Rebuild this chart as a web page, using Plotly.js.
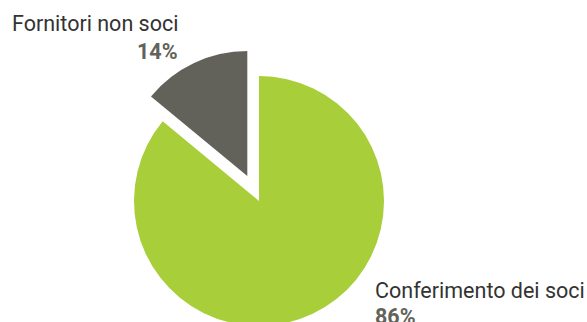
<!DOCTYPE html>
<html>
<head>
<meta charset="utf-8">
<script src="https://cdn.plot.ly/plotly-3.0.1.min.js"></script>
<style>
html,body{margin:0;padding:0;overflow:hidden;background:#fff;}
#chart{width:587px;height:402px;}
</style>
</head>
<body>
<div id="chart"></div>
<script>
const labels = ["Conferimento dei soci", "Fornitori non soci"];
const values = [86, 14];
const percentLabels = ["86%", "14%"];
const colors = ["#a8ce3a", "#63625a"];
const pulls = [0, 0.22];

const W = 587, H = 402;
const px = x => x / W;
const py = y => 1 - y / H;
const FONT = "Roboto, 'DejaVu Sans', sans-serif";
const R = 125, CX = 259;
const half = R * (1 + Math.max(...pulls));

const annotations = [
  {text: labels[1], x: px(180), y: py(24), xanchor: "right", yanchor: "middle",
   font: {family: FONT, size: 21.5, color: "#333333"}},
  {text: "<b>" + percentLabels[1] + "</b>", x: px(180), y: py(51), xanchor: "right", yanchor: "middle",
   font: {family: FONT, size: 21.5, color: "#63625a"}},
  {text: labels[0], x: px(373), y: py(290.5), xanchor: "left", yanchor: "middle",
   font: {family: FONT, size: 21.5, color: "#333333"}},
  {text: "<b>" + percentLabels[0] + "</b>", x: px(373), y: py(316), xanchor: "left", yanchor: "middle",
   font: {family: FONT, size: 21.5, color: "#63625a"}}
].map(a => Object.assign({xref: "paper", yref: "paper", showarrow: false}, a));

const data = [{
  type: "pie",
  labels: labels,
  values: values,
  sort: false,
  direction: "clockwise",
  rotation: 0,
  pull: pulls,
  marker: {colors: colors, line: {width: 0}},
  textinfo: "none",
  hoverinfo: "skip",
  domain: {x: [px(CX - half), px(CX + half)], y: [0, 1]}
}];

const layout = {
  width: W, height: H,
  margin: {l: 0, r: 0, t: 0, b: 0},
  paper_bgcolor: "#ffffff",
  showlegend: false,
  annotations: annotations
};

Plotly.newPlot("chart", data, layout, {displayModeBar: false, staticPlot: true});
</script>
</body>
</html>
